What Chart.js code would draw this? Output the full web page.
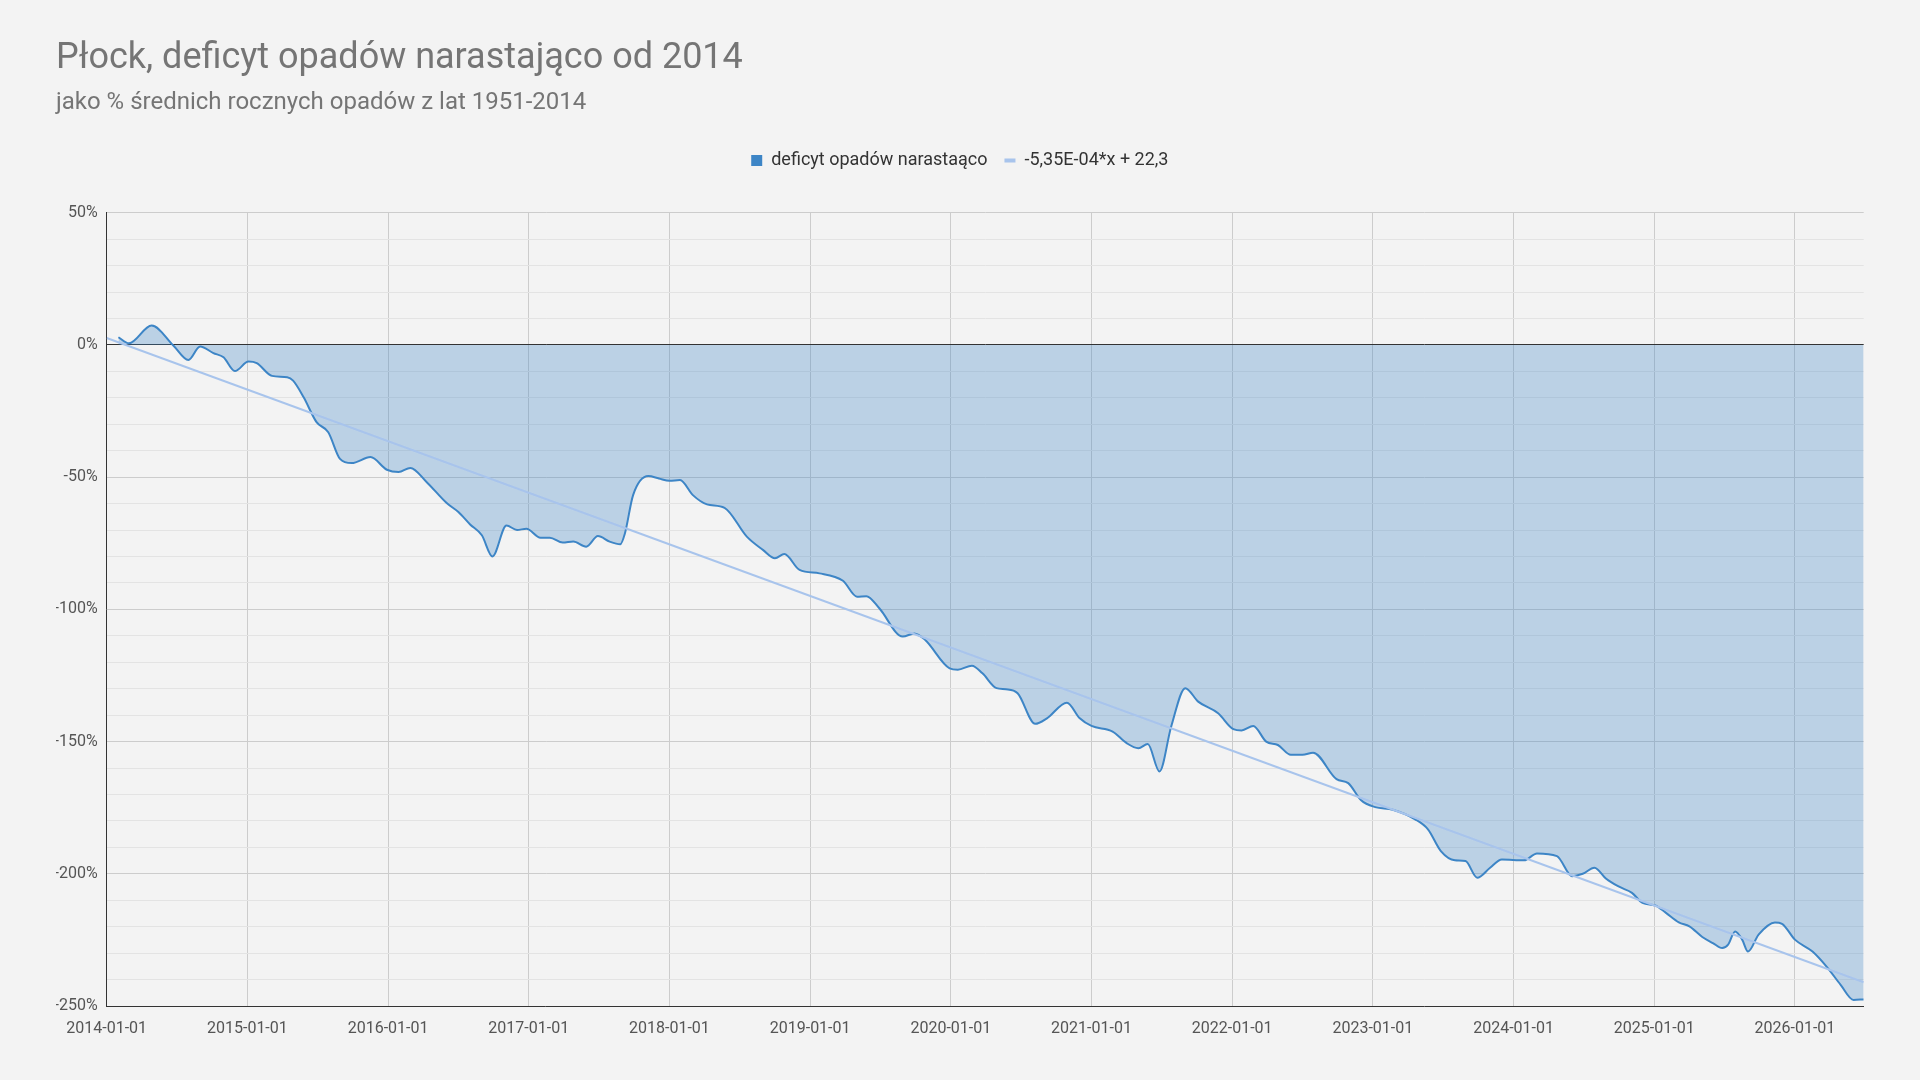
<!DOCTYPE html>
<html>
<head>
<meta charset="utf-8">
<script src="https://cdn.jsdelivr.net/npm/chart.js@4"></script>
<style>
  html, body { margin: 0; padding: 0; background: #f3f3f3; }
  #wrap { width: 1920px; height: 1080px; }
</style>
</head>
<body>
<div id="wrap"><canvas id="c" width="1920" height="1080"></canvas></div>
<script>
const chartTitle = 'Płock, deficyt opadów narastająco od 2014';
const chartSubtitle = 'jako % średnich rocznych opadów z lat 1951-2014';
const seriesName = 'deficyt opadów narastaąco';
const trendName = '-5,35E-04*x + 22,3';

const dates = [
 '2014-02-01','2014-02-28','2014-04-26','2014-06-22','2014-07-30','2014-08-30','2014-10-04','2014-10-30','2014-11-29',
 '2015-01-04','2015-01-25','2015-03-04','2015-04-13','2015-04-28','2015-05-25','2015-06-28','2015-07-28','2015-08-28','2015-09-28','2015-11-16','2015-12-28',
 '2016-01-28','2016-02-28','2016-04-10','2016-06-01','2016-07-01','2016-08-01','2016-09-01','2016-09-28','2016-11-04','2016-12-01','2016-12-25',
 '2017-02-01','2017-02-25','2017-03-28','2017-04-25','2017-05-28','2017-06-28','2017-07-28','2017-08-25','2017-09-07','2017-09-28','2017-11-07','2017-12-04',
 '2018-01-01','2018-01-28','2018-03-01','2018-04-07','2018-05-22','2018-07-19','2018-09-01','2018-10-01','2018-10-25','2018-12-04',
 '2019-01-25','2019-03-25','2019-05-01','2019-05-25','2019-06-28','2019-08-28','2019-09-28','2019-10-25','2019-12-28',
 '2020-01-19','2020-02-25','2020-03-22','2020-04-28','2020-05-22','2020-06-22','2020-08-07','2020-09-07','2020-10-28','2020-12-01',
 '2021-01-01','2021-02-25','2021-04-01','2021-05-01','2021-05-25','2021-06-25','2021-07-25','2021-09-01','2021-10-04','2021-11-25',
 '2022-01-04','2022-01-25','2022-02-25','2022-03-28','2022-04-28','2022-06-01','2022-07-01','2022-07-28','2022-09-28','2022-10-28','2022-12-01',
 '2023-01-07','2023-02-22','2023-04-19','2023-05-22','2023-06-25','2023-08-01','2023-08-28','2023-09-28','2023-11-01','2023-12-01',
 '2024-01-28','2024-03-01','2024-04-22','2024-06-01','2024-06-28','2024-07-28','2024-08-28','2024-10-01','2024-11-04','2024-12-01',
 '2025-01-04','2025-02-01','2025-03-04','2025-04-01','2025-05-04','2025-06-01','2025-06-25','2025-07-10','2025-07-28','2025-08-16','2025-09-01','2025-09-28','2025-11-10','2025-11-28',
 '2026-01-01','2026-02-16','2026-03-22','2026-04-28','2026-06-01','2026-06-27'
];
const deficit = [
 2.9, 0.6, 7.3, -0.3, -5.7, -0.6, -3.1, -4.7, -9.9,
 -6.3, -6.9, -11.7, -12.2, -13.5, -19.8, -29.2, -33, -43.1, -44.7, -42.4, -47.2,
 -48.1, -46.5, -51.9, -59.8, -63.2, -67.9, -72, -80, -68.3, -70, -69.5,
 -72.9, -72.9, -74.7, -74.3, -76.3, -72.3, -74.4, -75.4, -71.3, -56.8, -49.6, -50.5,
 -51.4, -51.1, -56.8, -60.3, -61.6, -72.5, -77.6, -80.7, -79.1, -85.1,
 -86.4, -89.2, -95.2, -95, -99.6, -110.3, -109.1, -111.5, -122.3,
 -122.8, -121.3, -124.2, -129.8, -130.2, -131.7, -143.3, -141.2, -135.3, -141.2,
 -144.1, -146.2, -150.6, -152.5, -150.9, -161.3, -144.3, -129.8, -134.9, -139.3,
 -145.3, -145.8, -144.1, -150, -151.3, -155, -155, -154.2, -164.2, -165.7, -172.2,
 -174.8, -175.8, -179.4, -183.2, -191.4, -194.9, -195.2, -201.5, -197.7, -194.6,
 -194.9, -192.3, -193.3, -200.9, -200, -197.7, -201.9, -204.9, -207.2, -211,
 -212, -214.8, -218.4, -219.9, -223.9, -226.2, -228.1, -226.8, -221.8, -224.9, -229.4, -223, -218.4, -218.9,
 -224.9, -229.4, -235.1, -242, -247.7, -247.5
];
const trendDates = ['2014-01-01', '2026-06-27'];
const trendValues = [2.6, -241];
const xTickLabels = ['2014-01-01','2015-01-01','2016-01-01','2017-01-01','2018-01-01','2019-01-01','2020-01-01','2021-01-01','2022-01-01','2023-01-01','2024-01-01','2025-01-01','2026-01-01'];
const yTickLabels = ['50%','0%','-50%','-100%','-150%','-200%','-250%'];

function toMonths(s) {
  const [y, m, d] = s.split('-').map(Number);
  return (y - 2014) * 12 + (m - 1) + (d - 1) / 30;
}

const lineColor = '#3d85c6';
const fillColor = 'rgba(61,133,198,0.3)';
const trendColor = '#a8c4ec';

Chart.defaults.font.family = 'Roboto';

new Chart(document.getElementById('c'), {
  type: 'line',
  data: {
    datasets: [
      {
        label: seriesName,
        data: dates.map((d, i) => ({ x: toMonths(d), y: deficit[i] })),
        borderColor: lineColor,
        backgroundColor: fillColor,
        borderWidth: 2,
        fill: 'origin',
        pointRadius: 0,
        cubicInterpolationMode: 'monotone',
        xAxisID: 'x', yAxisID: 'y',
        order: 1
      },
      {
        label: trendName,
        data: trendDates.map((d, i) => ({ x: toMonths(d), y: trendValues[i] })),
        borderColor: trendColor,
        borderWidth: 2,
        fill: false,
        pointRadius: 0,
        xAxisID: 'x', yAxisID: 'y',
        order: 0
      }
    ]
  },
  options: {
    responsive: false,
    animation: false,
    layout: { padding: { left: 56, right: 56.3, top: 0, bottom: 0 } },
    plugins: {
      title: {
        display: true, text: chartTitle, align: 'start', color: '#757575',
        font: { size: 36, weight: 'normal' }, padding: { top: 37.7, bottom: 0 }
      },
      subtitle: {
        display: true, text: chartSubtitle, align: 'start', color: '#757575',
        font: { size: 24, weight: 'normal' }, padding: { top: 7.2, bottom: 17.6 }
      },
      legend: {
        position: 'top', align: 'center',
        labels: {
          color: '#333', font: { size: 18 }, padding: 17,
          usePointStyle: true, pointStyleWidth: 11, boxHeight: 11,
          generateLabels: () => [
            { text: seriesName, fillStyle: lineColor, strokeStyle: lineColor, lineWidth: 0, pointStyle: 'rect', datasetIndex: 0, hidden: false, fontColor: '#333' },
            { text: trendName, fillStyle: trendColor, strokeStyle: trendColor, lineWidth: 4, pointStyle: 'line', datasetIndex: 1, hidden: false, fontColor: '#333' }
          ]
        }
      },
      tooltip: { enabled: false }
    },
    scales: {
      x: {
        type: 'linear', position: 'bottom',
        min: 0, max: toMonths(dates[dates.length - 1]),
        afterFit: s => { s.height = 74; },
        grid: { color: '#cccccc', drawTicks: false },
        border: { color: '#333', width: 1 },
        ticks: {
          stepSize: 12, includeBounds: false, autoSkip: false, maxRotation: 0,
          color: '#555', font: { size: 16 }, padding: 13,
          callback: v => (v % 12 === 0 ? xTickLabels[v / 12] : '')
        }
      },
      spacer: {
        type: 'linear', axis: 'x', position: 'top', display: true,
        grid: { display: false }, border: { display: false }, ticks: { display: false },
        afterFit: s => { s.height = 33.2; }
      },
      y: {
        type: 'linear', position: 'left',
        min: -250, max: 50,
        afterFit: s => { s.width = 50.7; },
        grid: {
          drawTicks: false,
          color: c => (c.tick.value === 0 ? '#333333' : (c.tick.value % 50 === 0 ? '#cccccc' : '#e3e3e3'))
        },
        border: { color: '#333', width: 1 },
        ticks: {
          stepSize: 10, autoSkip: false, color: '#555', font: { size: 16 }, padding: 9,
          callback: v => (v % 50 === 0 ? yTickLabels[(50 - v) / 50] : '')
        }
      }
    }
  }
});
</script>
</body>
</html>
